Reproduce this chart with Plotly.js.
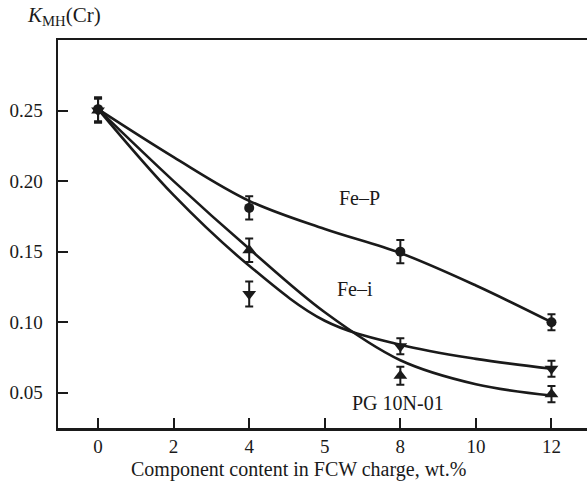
<!DOCTYPE html>
<html>
<head>
<meta charset="utf-8">
<script src="https://cdn.plot.ly/plotly-3.0.1.min.js"></script>
<style>html,body{margin:0;padding:0;background:#fff;}#chart{width:587px;height:490px;}</style>
</head>
<body>
<div id="chart"></div>
<script>
// Measured points
const xPoints = [0, 4, 8, 12];
const fepValues = [0.251, 0.181, 0.150, 0.100];
const fepErrors = [0.0085, 0.0083, 0.0083, 0.0057];
const feiValues = [0.250, 0.120, 0.083, 0.067];
const feiErrors = [0.0085, 0.0089, 0.0057, 0.0057];
const pgValues = [0.250, 0.151, 0.062, 0.049];
const pgErrors = [0.0085, 0.0083, 0.0064, 0.0057];

// Fitted curves
const curveX = [0, 2, 4, 6, 8, 10, 12];
const fepCurve = [0.251, 0.217, 0.186, 0.166, 0.149, 0.126, 0.100];
const feiCurve = [0.251, 0.190, 0.140, 0.101, 0.084, 0.074, 0.067];
const pgCurve = [0.251, 0.200, 0.152, 0.107, 0.073, 0.056, 0.048];

// Axis ticks (as printed in the original)
const xTickVals = [0, 2, 4, 6, 8, 10, 12];
const xTickText = ['0', '2', '4', '5', '8', '10', '12'];
const yTickVals = [0.05, 0.10, 0.15, 0.20, 0.25];
const yTickText = ['0.05', '0.10', '0.15', '0.20', '0.25'];

// Curve labels
const labelText = ['Fe\u2013P', 'Fe\u2013i', 'PG 10N-01'];
const labelX = [6.93, 6.8, 7.94];
const labelY = [0.188, 0.1236, 0.0427];

const xTitle = 'Component content in FCW charge, wt.%';
const yTitle = '<i>K</i><sub>MH</sub>(Cr)';

const ink = '#1a1a1a';
const font = 'Liberation Serif, Times New Roman, serif';

function curve(y) {
  return {x: curveX, y: y, mode: 'lines', line: {color: ink, width: 2.6, shape: 'spline'}, hoverinfo: 'skip', showlegend: false};
}
function pts(y, err, sym, size) {
  return {x: xPoints, y: y, mode: 'markers', showlegend: false,
    marker: {symbol: sym, size: size, color: ink},
    error_y: {type: 'data', array: err, visible: true, color: ink, thickness: 2, width: 4}};
}

const data = [
  curve(fepCurve), curve(feiCurve), curve(pgCurve),
  pts(pgValues, pgErrors, 'triangle-up', 12),
  pts(feiValues, feiErrors, 'triangle-down', 12),
  pts(fepValues, fepErrors, 'circle', 10)
];

const annotations = labelText.map((t, i) => ({
  x: labelX[i], y: labelY[i], text: t, showarrow: false,
  font: {family: font, size: 20, color: ink}, xanchor: 'center', yanchor: 'middle'
}));
annotations.push({
  xref: 'paper', yref: 'paper', x: -0.0624, y: 1.062, xanchor: 'left', yanchor: 'middle',
  text: yTitle, showarrow: false,
  font: {family: font, size: 21, color: ink}
});
annotations.push({
  xref: 'paper', yref: 'paper', x: 0.4537, y: -0.108, xanchor: 'center', yanchor: 'middle',
  text: xTitle, showarrow: false,
  font: {family: font, size: 20, color: ink}
});

const layout = {
  width: 587, height: 490,
  margin: {l: 58, r: 0, t: 40, b: 62},
  paper_bgcolor: '#fff', plot_bgcolor: '#fff',
  font: {family: font, size: 19, color: ink},
  xaxis: {
    range: [-1.06, 12.94], tickmode: 'array', tickvals: xTickVals, ticktext: xTickText,
    ticks: 'inside', ticklen: 10, tickwidth: 2, tickcolor: ink,
    showline: true, linewidth: 2.5, linecolor: ink, mirror: true,
    showgrid: false, zeroline: false,
    tickfont: {family: font, size: 19, color: ink}
  },
  yaxis: {
    range: [0.025, 0.30], tickmode: 'array', tickvals: yTickVals, ticktext: yTickText,
    ticks: 'inside', ticklen: 10, tickwidth: 2, tickcolor: ink,
    showline: true, linewidth: 2.5, linecolor: ink, mirror: false,
    showgrid: false, zeroline: false, ticklabelstandoff: 9,
    tickfont: {family: font, size: 19, color: ink}
  },
  annotations: annotations
};

Plotly.newPlot('chart', data, layout, {displayModeBar: false, staticPlot: true});
</script>
</body>
</html>
